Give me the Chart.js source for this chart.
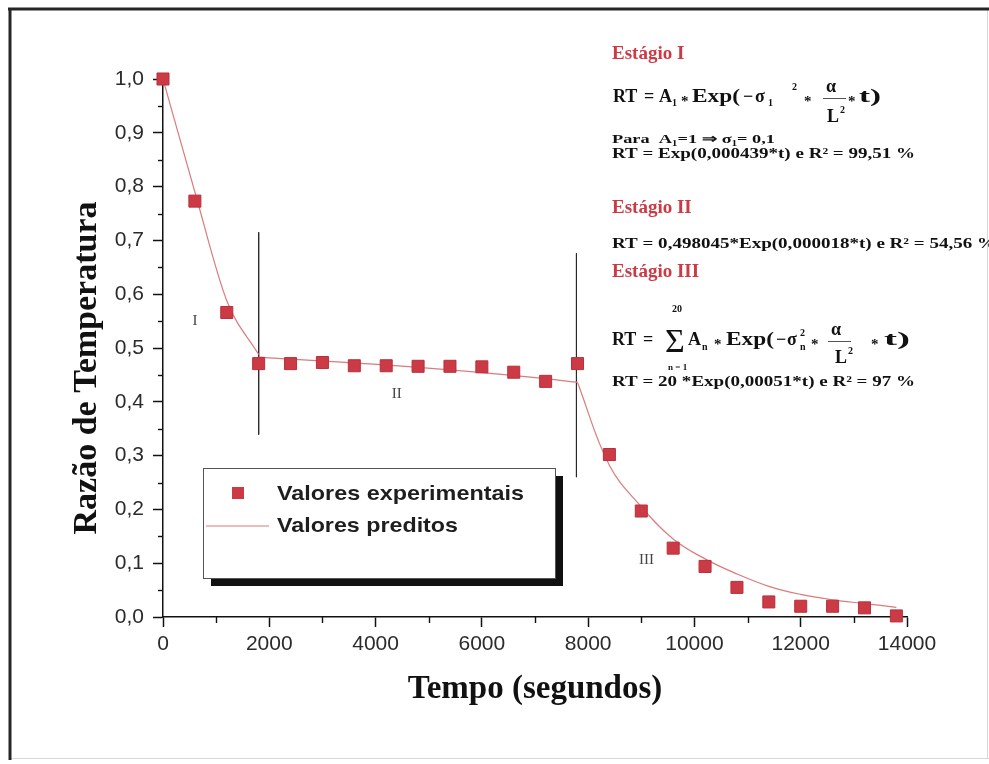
<!DOCTYPE html>
<html lang="pt-br">
<head>
<meta charset="UTF-8" />
<title>Razão de Temperatura x Tempo</title>
<script src="https://cdn.jsdelivr.net/npm/chart.js"></script>
<style>
    * { margin: 0; padding: 0; box-sizing: border-box; }
    body { background: #fff; width: 989px; height: 764px; overflow: hidden; }
    canvas { display: block; }
</style>
</head>
<body>
<canvas id="grafico" width="989" height="764"></canvas>
<script>
// Medições: tempo (s) e razão de temperatura
const tempo = [0, 600, 1200, 1800, 2400, 3000, 3600, 4200, 4800, 5400, 6000, 6600,
               7200, 7800, 8400, 9000, 9600, 10200, 10800, 11400, 12000, 12600, 13200, 13800];
const razaoExperimental = [1.000, 0.773, 0.566, 0.471, 0.471, 0.473, 0.467, 0.467, 0.466, 0.466, 0.465, 0.455,
                           0.438, 0.471, 0.302, 0.197, 0.128, 0.094, 0.055, 0.028, 0.020, 0.020, 0.017, 0.002];

// Curvas preditas, uma por estágio
const tempoEstagio1 = [0, 600, 1200, 1800];
const predEstagio1 = [1.000, 0.790, 0.588, 0.488];
const tempoEstagio2 = [1800, 4800, 7200, 7800];
const predEstagio2 = [0.483, 0.464, 0.443, 0.436];
const tempoEstagio3 = [7800, 8400, 9000, 9600, 10200, 10800, 11400, 12000, 12600, 13200, 13800];
const predEstagio3 = [0.436, 0.282, 0.205, 0.145, 0.108, 0.080, 0.057, 0.042, 0.032, 0.025, 0.018];

// Linhas verticais entre os estágios
const divisaoTempo = [1800, 7780];
const divisaoTopo = [0.715, 0.676];
const divisaoBase = [0.339, 0.260];

// Rótulos dos estágios dentro do gráfico
const estagios = ['I', 'II', 'III'];
const estagioTempo = [600, 4400, 9100];
const estagioRazao = [0.55, 0.415, 0.105];

const xTickLabels = ['0', '2000', '4000', '6000', '8000', '10000', '12000', '14000'];
const yTickLabels = ['0,0', '0,1', '0,2', '0,3', '0,4', '0,5', '0,6', '0,7', '0,8', '0,9', '1,0'];
const series = ['Valores experimentais', 'Valores preditos'];

const vermelho = '#cc3a45';
const linhaPredita = '#d97c7c';
const serif = '"Liberation Serif", "Times New Roman", serif';
const sans = '"Liberation Sans", Arial, sans-serif';

// Equações à direita: [texto, x, y, tamanho, largura, peso]
const eqEstagio1 = [
    ['RT', 613, 102, 18], ['=', 644, 102, 18], ['A', 659, 102, 18], ['1', 672, 106, 10],
    ['*', 681, 106, 15], ['Exp(', 692, 102, 18, 48], ['\u2212', 743, 102, 18], ['\u03c3', 755, 102, 18],
    ['1', 768, 106, 10], ['2', 792, 90, 10], ['*', 804, 106, 15], ['\u03b1', 826, 92, 18],
    ['L', 827, 122, 18], ['2', 840, 113, 10], ['*', 848, 106, 15], ['t)', 859, 102, 18, 22]
];
const eqEstagio3 = [
    ['RT', 612, 345, 18], ['=', 643, 345, 18], ['\u03a3', 665, 352, 34, null, 'normal'],
    ['20', 672, 312, 10], ['n = 1', 668, 370, 9], ['A', 688, 345, 18], ['n', 702, 350, 10],
    ['*', 714, 349, 15], ['Exp(', 726, 345, 18, 48], ['\u2212', 776, 345, 18], ['\u03c3', 787, 345, 18],
    ['2', 800, 336, 10], ['n', 800, 350, 10], ['*', 811, 349, 15], ['\u03b1', 831, 335, 18],
    ['L', 835, 363, 18], ['2', 848, 354, 10], ['*', 871, 349, 15], ['t)', 884, 345, 18, 26]
];
// Linhas simples: [texto, x, y, tamanho, largura, cor]
const notas = [
    ['Estágio I', 612, 59, 19, null, vermelho],
    ['Para  A\u2081=1 \u21d2 \u03c3\u2081= 0,1', 612, 143, 13, 163],
    ['RT = Exp(0,000439*t) e R\u00b2 = 99,51 %', 612, 158, 14, 303],
    ['Estágio II', 612, 213, 19, null, vermelho],
    ['RT = 0,498045*Exp(0,000018*t) e R\u00b2 = 54,56 %', 612, 248, 14, 384],
    ['Estágio III', 612, 277, 19, null, vermelho],
    ['RT = 20 *Exp(0,00051*t) e R\u00b2 = 97 %', 612, 386, 14, 303]
];

function escrever(ctx, txt, x, y, fonte, largura, sx) {
    ctx.save();
    ctx.font = fonte;
    ctx.translate(x, y);
    if (largura) ctx.scale(largura / ctx.measureText(txt).width, 1);
    else if (sx) ctx.scale(sx, 1);
    ctx.fillText(txt, 0, 0);
    ctx.restore();
}

function equacao(ctx, runs) {
    ctx.fillStyle = '#111';
    ctx.textAlign = 'left';
    ctx.textBaseline = 'alphabetic';
    runs.forEach(([t, x, y, s, w, peso]) => {
        escrever(ctx, t, x, y, (peso || 'bold') + ' ' + s + 'px ' + serif, w);
    });
}

function linha(ctx, x1, y1, x2, y2) {
    ctx.beginPath();
    ctx.moveTo(x1, y1);
    ctx.lineTo(x2, y2);
    ctx.stroke();
}

const decoracao = {
    id: 'decoracao',
    beforeDraw(chart) {
        const ctx = chart.ctx;
        ctx.save();
        ctx.fillStyle = '#fff';
        ctx.fillRect(0, 0, chart.width, chart.height);
        // moldura
        ctx.strokeStyle = '#d8d8d8';
        ctx.lineWidth = 1;
        linha(ctx, 9, 758.5, 989, 758.5);
        linha(ctx, 987.5, 8, 987.5, 758);
        ctx.strokeStyle = '#262626';
        ctx.lineWidth = 3;
        linha(ctx, 8, 9, 989, 9);
        linha(ctx, 10, 8, 10, 760);
        ctx.restore();
    },
    afterDraw(chart) {
        const ctx = chart.ctx;
        const sx = chart.scales.x, sy = chart.scales.y;
        ctx.save();

        // marcas secundárias dos eixos
        ctx.strokeStyle = '#111';
        ctx.lineWidth = 1.4;
        for (let i = 0; i < yTickLabels.length - 1; i++) {
            const py = Math.round(sy.getPixelForValue((i + 0.5) / 10)) + 0.5;
            linha(ctx, sx.left - 5, py, sx.left, py);
        }
        for (let i = 0; i < xTickLabels.length - 1; i++) {
            const px = Math.round(sx.getPixelForValue((i + 0.5) * 2000)) + 0.5;
            linha(ctx, px, sy.bottom, px, sy.bottom + 6);
        }

        // rótulos dos estágios
        ctx.fillStyle = '#444';
        ctx.font = '15px ' + serif;
        ctx.textAlign = 'center';
        ctx.textBaseline = 'middle';
        estagios.forEach((e, i) => {
            ctx.fillText(e, sx.getPixelForValue(estagioTempo[i]), sy.getPixelForValue(estagioRazao[i]));
        });

        // títulos dos eixos
        ctx.fillStyle = '#111';
        ctx.font = 'bold 33px ' + serif;
        ctx.fillText('Tempo (segundos)', (sx.left + sx.right) / 2, 689);
        ctx.save();
        ctx.translate(87, 368);
        ctx.rotate(-Math.PI / 2);
        ctx.font = 'bold 34px ' + serif;
        ctx.fillText('Razão de Temperatura', 0, 0);
        ctx.restore();

        // legenda com sombra
        const lx = 203, ly = 468, lw = 352, lh = 110;
        ctx.fillStyle = '#111';
        ctx.fillRect(lx + 8, ly + 8, lw, lh);
        ctx.fillStyle = '#fff';
        ctx.fillRect(lx, ly, lw, lh);
        ctx.strokeStyle = '#555';
        ctx.lineWidth = 1;
        ctx.strokeRect(lx + 0.5, ly + 0.5, lw, lh);

        const dsExp = chart.data.datasets[0], dsPred = chart.data.datasets[1];
        ctx.fillStyle = dsExp.backgroundColor;
        ctx.fillRect(lx + 29, ly + 19, 12, 12);
        ctx.strokeStyle = dsPred.borderColor;
        ctx.lineWidth = dsPred.borderWidth;
        linha(ctx, lx + 3, ly + 58, lx + 66, ly + 58);

        ctx.fillStyle = '#1e1e1e';
        ctx.textAlign = 'left';
        ctx.textBaseline = 'alphabetic';
        escrever(ctx, dsExp.label, lx + 74, ly + 32, 'bold 21px ' + sans, 247);
        escrever(ctx, dsPred.label, lx + 74, ly + 64, 'bold 21px ' + sans, 181);

        // equações dos estágios
        notas.forEach(([t, x, y, s, w, cor]) => {
            ctx.fillStyle = cor || '#111';
            escrever(ctx, t, x, y, 'bold ' + s + 'px ' + serif, w);
        });
        equacao(ctx, eqEstagio1);
        equacao(ctx, eqEstagio3);
        ctx.strokeStyle = '#555';
        ctx.lineWidth = 1;
        linha(ctx, 823, 98.5, 846, 98.5);
        linha(ctx, 828, 341.5, 851, 341.5);

        ctx.restore();
    }
};

Chart.defaults.font.family = sans;

const pares = (xs, ys) => xs.map((t, i) => ({ x: t, y: ys[i] }));
const curva = (xs, ys, rotulo, suave) => ({
    label: rotulo,
    data: pares(xs, ys),
    borderColor: linhaPredita,
    borderWidth: 1.2,
    pointRadius: 0,
    tension: suave ? 0.4 : 0,
    cubicInterpolationMode: suave ? 'default' : 'monotone',
    clip: false,
    order: 1
});
const divisoes = divisaoTempo.map((t, i) => ({
    data: [{ x: t, y: divisaoTopo[i] }, { x: t, y: divisaoBase[i] }],
    borderColor: '#2a2a2a',
    borderWidth: 1,
    pointRadius: 0,
    order: 2
}));

new Chart(document.getElementById('grafico'), {
    type: 'line',
    data: {
        datasets: [
            {
                label: series[0],
                data: pares(tempo, razaoExperimental),
                showLine: false,
                pointStyle: 'rect',
                pointRadius: 8.5,
                backgroundColor: vermelho,
                borderColor: '#b8303c',
                pointBorderWidth: 1,
                clip: false,
                order: 0
            },
            curva(tempoEstagio1, predEstagio1, series[1], false),
            curva(tempoEstagio2, predEstagio2, series[1], false),
            curva(tempoEstagio3, predEstagio3, series[1], true),
            ...divisoes
        ]
    },
    options: {
        responsive: false,
        animation: false,
        events: [],
        layout: { padding: { left: 20, top: 79, right: 82, bottom: 20 } },
        plugins: { legend: { display: false }, tooltip: { enabled: false } },
        scales: {
            x: {
                type: 'linear',
                min: 0,
                max: 14000,
                afterFit: s => { s.height = 127; },
                border: { display: true, color: '#111', width: 1.5 },
                grid: { drawOnChartArea: false, drawTicks: true, tickLength: 10, tickColor: '#111', tickWidth: 1.5 },
                ticks: {
                    stepSize: 2000,
                    padding: 5,
                    color: '#2b2b2b',
                    font: { size: 21 },
                    maxRotation: 0,
                    callback: (v, i) => xTickLabels[i]
                }
            },
            y: {
                min: 0,
                max: 1,
                afterFit: s => { s.width = 143; },
                border: { display: true, color: '#111', width: 1.5 },
                grid: { drawOnChartArea: false, drawTicks: true, tickLength: 10, tickColor: '#111', tickWidth: 1.5 },
                ticks: {
                    stepSize: 0.1,
                    padding: 9,
                    color: '#2b2b2b',
                    font: { size: 21 },
                    callback: (v, i) => yTickLabels[i]
                }
            }
        }
    },
    plugins: [decoracao]
});
</script>
</body>
</html>
